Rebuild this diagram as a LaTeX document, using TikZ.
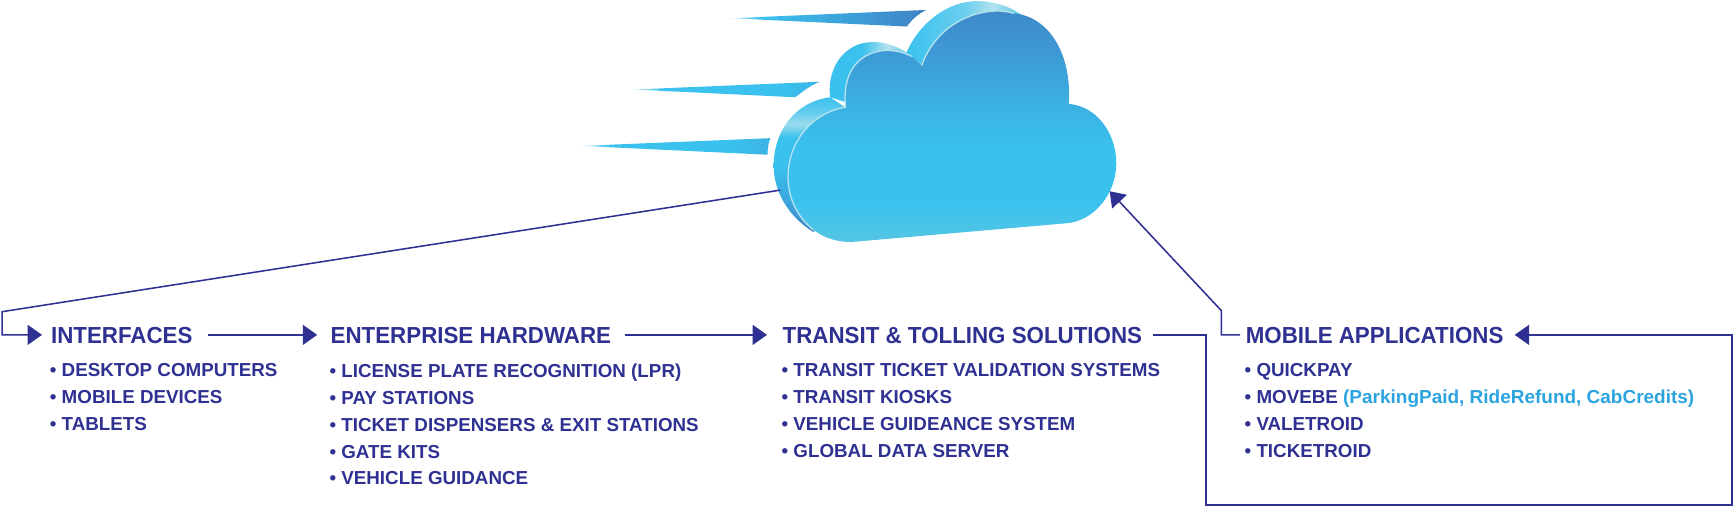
\documentclass[tikz,border=0pt]{standalone}
\usepackage{fontspec}
\setmainfont{Liberation Sans}
\newfontfamily\headfont{Liberation Sans Bold}[FakeStretch=0.962]
\newfontfamily\itemfont{Liberation Sans Bold}[FakeStretch=1.0]
\newfontfamily\notefont{Liberation Sans Bold}[FakeStretch=1.01]
\usetikzlibrary{arrows.meta}
\definecolor{navy}{HTML}{2F3192}
\definecolor{sky}{HTML}{3AC1EE}
\definecolor{deep}{HTML}{3F86C8}
\definecolor{pale}{HTML}{B4E2EE}
\definecolor{soft}{HTML}{55C6E4}
\definecolor{cyantext}{HTML}{2BA3DF}
\pgfdeclareverticalshading{cloudface}{100bp}{color(0bp)=(soft);color(25bp)=(soft);color(34bp)=(sky);color(45bp)=(sky);color(75bp)=(deep);color(100bp)=(deep)}
\pgfdeclarehorizontalshading{streakone}{100bp}{color(0bp)=(white);color(25bp)=(sky!30);color(33bp)=(sky);color(72bp)=(deep);color(75bp)=(deep!92!black);color(100bp)=(deep)}
\pgfdeclarehorizontalshading{streaktwo}{100bp}{color(0bp)=(white);color(25bp)=(sky!30);color(33bp)=(sky);color(65bp)=(sky);color(75bp)=(sky!75!deep);color(100bp)=(deep)}
\pgfdeclarehorizontalshading{sidebig}{100bp}{color(0bp)=(sky);color(25bp)=(sky);color(50bp)=(sky!60!pale);color(62bp)=(pale);color(75bp)=(soft);color(100bp)=(soft)}
\pgfdeclarehorizontalshading{sidesmall}{100bp}{color(0bp)=(sky);color(25bp)=(sky);color(45bp)=(sky);color(60bp)=(pale);color(75bp)=(sky);color(100bp)=(sky)}
\pgfdeclareverticalshading{sideleft}{100bp}{color(0bp)=(deep);color(25bp)=(deep);color(38bp)=(sky!60!deep);color(50bp)=(sky);color(60bp)=(sky);color(65bp)=(pale!80!sky);color(70bp)=(sky!70!pale);color(75bp)=(sky);color(100bp)=(sky)}
\tikzset{
  head/.style={anchor=west,text=navy,font=\headfont\fontsize{21}{21}\selectfont,inner sep=0pt},
  items/.style={anchor=north west,text=navy,align=left,inner sep=0pt,font=\itemfont\fontsize{17}{24.3}\selectfont},
  wire/.style={draw=navy,line width=1.4pt},
  flow/.style={wire,-{Triangle[length=13pt,width=18pt]}},
  glint/.style={draw=pale,line width=1.2pt,line cap=round},
}
\begin{document}
\begin{tikzpicture}[x=1pt,y=-1pt]
\useasboundingbox (0,0) rectangle (1568,458);
% speed streaks
\shade[shading=streakone] (661,16.5) -- (838,9) .. controls (830,13) and (825,18) .. (820.5,24) -- cycle;
\shade[shading=streaktwo] (573,81) -- (741.5,74) .. controls (732,78) and (726,83) .. (719.5,88) -- cycle;
\shade[shading=streaktwo] (526,132) -- (697,125) .. controls (695,130) and (694.5,135) .. (694.5,140) -- cycle;
% extruded sides of the cloud
\shade[shading=sidebig] (820,48) .. controls (832,20) and (858,1) .. (884,1) .. controls (900,1) and (915,6) .. (926,15) -- (850,70) -- cycle;
\shade[shading=sidesmall] (751,88) .. controls (748,60) and (765,38) .. (790,38) .. controls (802,38) and (813,42) .. (827,52) -- (790,100) -- cycle;
\shade[shading=sideleft] (751,88) .. controls (720,92) and (700,118) .. (700,150) .. controls (700,172) and (712,195) .. (736,210) -- (780,150) -- (766,98) -- cycle;
% front face
\shade[shading=cloudface] (736,208) .. controls (745,215) and (757,219) .. (770,219) -- (965,202) .. controls (990,200) and (1010,175) .. (1010,148) .. controls (1010,120) and (992,96) .. (967,94) .. controls (970,50) and (950,15) .. (917,12) .. controls (895,5) and (850,15) .. (834,59) -- (825,51) .. controls (800,38) and (760,47) .. (765,97) .. controls (735,102) and (713,128) .. (713,160) .. controls (713,180) and (722,197) .. (736,208) -- cycle;
\draw[glint] (736,208) .. controls (722,197) and (713,180) .. (713,160) .. controls (713,128) and (735,102) .. (765,97);
\draw[glint] (765,97) .. controls (760,47) and (800,38) .. (825,51);
\draw[glint] (834,59) .. controls (850,15) and (895,5) .. (917,12);
\coordinate (cloudL) at (706,172);
\coordinate (cloudR) at (1004,173);
% sections
\node[head] (interfaces) at (46,304) {INTERFACES};
\node[head] (hardware) at (299,304) {ENTERPRISE HARDWARE};
\node[head] (transit) at (708,304) {TRANSIT \& TOLLING SOLUTIONS};
\node[head] (mobile) at (1127,304) {MOBILE APPLICATIONS};
\node[items] (interfacesList) at (45,329) {• DESKTOP COMPUTERS\\• MOBILE DEVICES\\• TABLETS};
\node[items] (hardwareList) at (298,329) {• LICENSE PLATE RECOGNITION (LPR)\\• PAY STATIONS\\• TICKET DISPENSERS \& EXIT STATIONS\\• GATE KITS\\• VEHICLE GUIDANCE};
\node[items] (transitList) at (707,329) {• TRANSIT TICKET VALIDATION SYSTEMS\\• TRANSIT KIOSKS\\• VEHICLE GUIDEANCE SYSTEM\\• GLOBAL DATA SERVER};
\node[items] (mobileList) at (1126,329) {• QUICKPAY\\• MOVEBE {\color{cyantext}\notefont (ParkingPaid, RideRefund, CabCredits)}\\• VALETROID\\• TICKETROID};
% connectors
\coordinate (a1) at (2,282);
\coordinate (a2) at (2,303);
\draw[flow,shorten >=8pt] (cloudL) -- (a1) -- (a2) -- (interfaces.west |- a2);
\coordinate (hy) at (0,303);
\draw[flow,shorten <=14pt,shorten >=12pt] (interfaces.east |- hy) -- (hardware.west |- hy);
\draw[flow,shorten <=12pt,shorten >=14pt] (hardware.east |- hy) -- (transit.west |- hy);
\coordinate (b1) at (1091,303);
\coordinate (b2) at (1091,457);
\coordinate (b3) at (1567,457);
\coordinate (b4) at (1567,303);
\draw[flow,shorten <=10pt,shorten >=10pt] (transit.east |- hy) -- (b1) -- (b2) -- (b3) -- (b4) -- (mobile.east |- hy);
\coordinate (c1) at (1105,303);
\coordinate (c2) at (1105,281);
\draw[flow] (mobile.west |- hy) ++(-5,0) -- (c1) -- (c2) -- (cloudR);
\end{tikzpicture}
\end{document}
